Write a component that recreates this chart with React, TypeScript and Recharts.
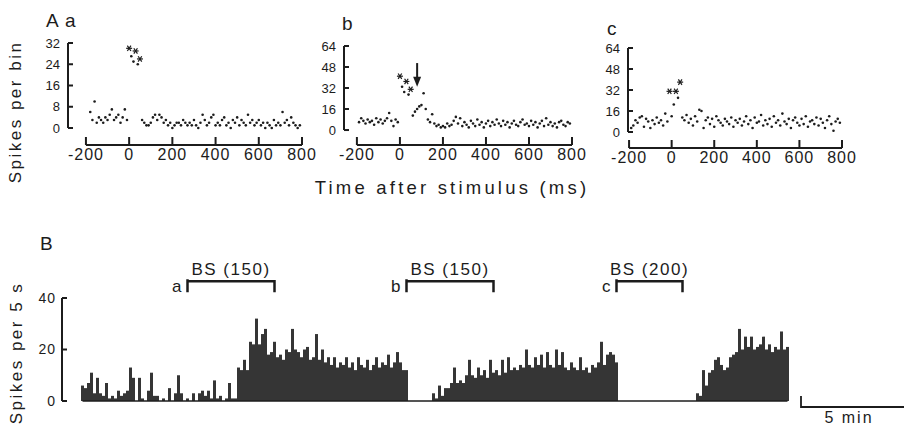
import React from 'react';
import { ScatterChart, Scatter, XAxis, YAxis, ReferenceLine, BarChart, Bar } from 'recharts';

// Panel A: peri-stimulus histograms, 10 ms bins
const binMs = 10;
const msTicks = [-200, 0, 200, 400, 600, 800];
const ticks32 = [0, 8, 16, 24, 32];
const ticks64 = [0, 16, 32, 48, 64];
const ticks40 = [0, 20, 40];

const startA = -180;
const countsA = [
  6, 3, 10, 2, 4, 3, 2, 4, 3, 5, 7, 3, 4, 5, 2, 4, 7, 3,
  30, 27, 25, 29, 24, 26,
  3, 2, 1, 1, 2, 4, 5, 3, 5, 4, 2, 3, 1, 2,
  0, 1, 2, 2, 1, 3, 2, 1, 2, 1,
  3, 1, 0, 2, 5, 3, 1, 2, 4, 5,
  1, 2, 1, 3, 4, 1, 2, 0, 3, 2,
  4, 1, 3, 2, 1, 5, 2, 3, 1, 2,
  3, 1, 2, 0, 2, 1, 0, 3, 1, 2,
  1, 6, 2, 3, 1, 4, 2, 1, 0, 1,
];
const starredA = [0, 30, 50];

const startB = -190;
const countsB = [
  6, 9, 7, 5, 8, 6, 7, 4, 9, 6, 8, 5, 7, 9, 13, 7, 3, 8, 6,
  41, 33, 29, 37, 27, 31,
  11, 14, 16, 18, 19, 28, 16, 8, 6, 12,
  5, 3, 4, 2, 3, 2, 5, 3, 4, 7,
  10, 5, 9, 3, 6, 4, 2, 7, 5, 3,
  8, 4, 6, 2, 5, 7, 3, 6, 4, 8,
  5, 3, 7, 4, 6, 2, 5, 7, 4, 3,
  6, 8, 4, 5, 3, 7, 4, 6, 2, 5,
  7, 3, 9, 4, 6, 3, 5, 2, 6, 7,
  4, 3, 6, 5,
];
const starredB = [0, 30, 50];
const arrowAtMs = 80;

const startC = -190;
const countsC = [
  3, 5, 9, 7, 11, 12, 4, 10, 8, 3, 9, 6, 11, 7, 9, 5, 14, 8, 31,
  12, 21, 31, 26, 38, 11,
  9, 13, 7, 10, 5, 12, 8, 17, 16, 3,
  9, 11, 6, 10, 4, 12, 9, 7, 5, 10,
  8, 6, 11, 4, 9, 7, 10, 5, 8, 12,
  6, 9, 3, 11, 7, 8, 13, 5, 9, 6,
  10, 4, 12, 7, 9, 5, 14, 8, 6, 10,
  3, 9, 11, 7, 5, 10, 6, 12, 4, 8,
  9, 6, 11, 5, 10, 7, 3, 9, 12, 6,
  1, 8, 10, 7,
];
const starredC = [-10, 20, 40];

// Panel B: firing rate over the session
const spikesPer5s = [
  6, 5, 7, 11, 3, 9, 3, 2, 7, 1, 2, 1, 4, 2, 3, 4, 13, 9, 0, 9, 1, 0,
  4, 11, 2, 2, 0, 1, 0, 5, 0, 3, 10, 3, 0, 1, 0, 3, 0, 3, 4, 2, 4, 1,
  8, 1, 2, 0, 1, 7, 1, 1,
  13, 12, 16, 12, 23, 22, 32, 22, 26, 28,
  18, 19, 23, 17, 18, 16, 20, 19, 28, 20, 19, 17,
  20, 21, 16, 17, 26, 16, 20, 15, 17, 14,
  17, 13, 15, 14, 17, 13, 15, 12, 17, 14,
  13, 16, 12, 14, 17, 13, 15, 14,
  18, 13, 15, 19, 15, 12, 12,
  0, 0, 0, 0, 0, 0, 0, 0,
  3, 1, 6, 2, 5, 5, 7, 13, 7, 8, 7, 10,
  16, 10, 9, 13, 10, 12, 9, 16, 11, 12, 10,
  16, 11, 17, 12, 13, 12, 14, 13, 20, 14,
  13, 17, 14, 18, 13, 19, 14, 13, 20, 14,
  19, 13, 12, 15, 13, 12, 17, 12, 13, 11,
  14, 13, 15, 23, 14, 18, 19, 18, 15,
  0, 0, 0, 0, 0, 0, 0, 0, 0, 0, 0, 0, 0, 0, 0, 0, 0, 0, 0, 0, 0, 0, 0, 0, 0, 0,
  3, 2, 12, 6, 11, 12, 16, 17, 14, 12, 13,
  17, 18, 19, 28, 20, 25, 21, 25, 20, 21,
  22, 25, 20, 22, 19, 21, 20, 27, 20, 21,
];
const stimBlocks = [
  { tag: 'a', text: 'BS (150)', from: 35, to: 64 },
  { tag: 'b', text: 'BS (150)', from: 108, to: 137 },
  { tag: 'c', text: 'BS (200)', from: 178, to: 200 },
];
const bracketLevel = 46.5;

const ink = '#1c1c1c';
const font = '"Liberation Sans", Arial, sans-serif';

const Dot = (p: any) => <circle cx={p.cx} cy={p.cy} r={1.3} fill={ink} />;

const Star = (p: any) => (
  <g stroke={ink} strokeWidth={1.2}>
    <line x1={p.cx - 3} y1={p.cy} x2={p.cx + 3} y2={p.cy} />
    <line x1={p.cx - 1.8} y1={p.cy - 2.7} x2={p.cx + 1.8} y2={p.cy + 2.7} />
    <line x1={p.cx - 1.8} y1={p.cy + 2.7} x2={p.cx + 1.8} y2={p.cy - 2.7} />
  </g>
);

const Arrow = ({ x1, y1, x2, y2 }: any) => (
  <g>
    <line x1={x1} y1={y1} x2={x2} y2={y2 - 8} stroke={ink} strokeWidth={2} />
    <path d={`M${x2 - 4} ${y2 - 10} L${x2 + 4} ${y2 - 10} L${x2} ${y2} Z`} fill={ink} />
  </g>
);

const Bracket = ({ x1, y1, x2, tag, text }: any) => (
  <g fontFamily={font} fill={ink}>
    <path d={`M${x1} ${y1 + 11} V${y1 - 2} M${x1} ${y1} H${x2} V${y1 + 11}`} stroke={ink} strokeWidth={2.5} fill="none" />
    <text x={(x1 + x2) / 2} y={y1 - 6} textAnchor="middle" fontSize={17} letterSpacing={1.5}>{text}</text>
    <text x={x1 - 6} y={y1 + 11} textAnchor="end" fontSize={17}>{tag}</text>
  </g>
);

type PanelProps = {
  left: number; top: number; width: number; height: number;
  axisW: number; marginTop: number; xMin: number; yMin: number; yMax: number;
  ticks: number[]; start: number; counts: number[]; starred: number[];
  children?: React.ReactNode;
};

const Psth = ({ left, top, width, height, axisW, marginTop, xMin, yMin, yMax, ticks, start, counts, starred, children }: PanelProps) => {
  const pts = counts.map((v, i) => ({ t: start + i * binMs, v }));
  const plain = pts.filter((p) => !starred.includes(p.t));
  const stars = pts.filter((p) => starred.includes(p.t));
  return (
    <div style={{ position: 'absolute', left, top }}>
      <ScatterChart width={width} height={height} margin={{ top: marginTop, right: 18, left: 0, bottom: 0 }}>
        <XAxis type="number" dataKey="t" domain={[xMin, 800]} ticks={msTicks} allowDataOverflow interval={0}
          height={30} axisLine={false} tickLine={{ stroke: ink, strokeWidth: 2 }} tickSize={-8} tickMargin={12}
          tick={{ fill: ink, fontSize: 16, fontFamily: font, letterSpacing: 1 }} />
        <YAxis type="number" dataKey="v" domain={[yMin, yMax]} ticks={ticks} allowDataOverflow interval={0}
          width={axisW} axisLine={false} tickLine={{ stroke: ink, strokeWidth: 2 }} tickSize={-5} tickMargin={13}
          tick={{ fill: ink, fontSize: 13, fontFamily: font }} />
        <ReferenceLine segment={[{ x: xMin, y: 0 }, { x: xMin, y: yMax }]} stroke={ink} strokeWidth={2} ifOverflow="visible" />
        <ReferenceLine segment={[{ x: -200, y: yMin }, { x: 800, y: yMin }]} stroke={ink} strokeWidth={2} ifOverflow="visible" />
        <Scatter data={plain} shape={Dot} isAnimationActive={false} />
        <Scatter data={stars} shape={Star} isAnimationActive={false} />
        {children}
      </ScatterChart>
    </div>
  );
};

export default function App() {
  const rateData = spikesPer5s.map((v, i) => ({ i, v }));
  const lastBin = spikesPer5s.length - 1;
  return (
    <div style={{ position: 'relative', width: 904, height: 428, background: '#fff', fontFamily: font }}>
      <style>{'body{margin:0}'}</style>

      <Psth left={0} top={0} width={320} height={175} axisW={68} marginTop={43}
        xMin={-283} yMin={-6.4} yMax={32} ticks={ticks32} start={startA} counts={countsA} starred={starredA} />
      <Psth left={290} top={0} width={300} height={175} axisW={54} marginTop={46}
        xMin={-260} yMin={-11.4} yMax={64} ticks={ticks64} start={startB} counts={countsB} starred={starredB}>
        <ReferenceLine segment={[{ x: arrowAtMs, y: 51 }, { x: arrowAtMs, y: 33 }]} ifOverflow="visible" shape={Arrow} />
      </Psth>
      <Psth left={580} top={0} width={280} height={178} axisW={48} marginTop={48}
        xMin={-205} yMin={-12.2} yMax={64} ticks={ticks64} start={startC} counts={countsC} starred={starredC} />

      <div style={{ position: 'absolute', left: 0, top: 230 }}>
        <BarChart width={904} height={198} data={rateData} margin={{ top: 68, right: 115, left: 0, bottom: 27 }}
          barCategoryGap={0} barGap={0}>
          <XAxis dataKey="i" hide padding={{ left: 19, right: 0 }} />
          <YAxis type="number" domain={[0, 40]} ticks={ticks40} allowDataOverflow interval={0} width={62}
            axisLine={{ stroke: ink, strokeWidth: 2 }} tickLine={{ stroke: ink, strokeWidth: 2 }} tickSize={-5} tickMargin={11}
            tick={{ fill: ink, fontSize: 14, fontFamily: font, letterSpacing: 1 }} />
          <Bar dataKey="v" fill="#353535" isAnimationActive={false} />
          <ReferenceLine segment={[{ x: 0, y: 0 }, { x: lastBin, y: 0 }]} stroke={ink} strokeWidth={1.5} ifOverflow="visible" />
          {stimBlocks.map((b) => (
            <ReferenceLine key={b.tag} segment={[{ x: b.from, y: bracketLevel }, { x: b.to, y: bracketLevel }]}
              ifOverflow="visible" shape={(p: any) => <Bracket {...p} tag={b.tag} text={b.text} />} />
          ))}
        </BarChart>
      </div>

      <svg width={904} height={428} style={{ position: 'absolute', left: 0, top: 0, pointerEvents: 'none' }}
        fontFamily={font} fill={ink}>
        <text x={46} y={27} fontSize={19}>A</text>
        <text x={65} y={27} fontSize={19}>a</text>
        <text x={342} y={30} fontSize={19}>b</text>
        <text x={607} y={35} fontSize={19}>c</text>
        <text x={40} y={250} fontSize={19}>B</text>
        <text transform="translate(21 112) rotate(-90)" textAnchor="middle" fontSize={17} letterSpacing={2.5}>Spikes per bin</text>
        <text transform="translate(22 353) rotate(-90)" textAnchor="middle" fontSize={17} letterSpacing={2.5}>Spikes per 5 s</text>
        <text x={452} y={194} textAnchor="middle" fontSize={18.5} letterSpacing={3.2}>Time after stimulus (ms)</text>
        <path d="M801 396 V407 H904" stroke={ink} strokeWidth={1.8} fill="none" />
        <text x={849} y={423} textAnchor="middle" fontSize={16} letterSpacing={2}>5 min</text>
      </svg>
    </div>
  );
}
